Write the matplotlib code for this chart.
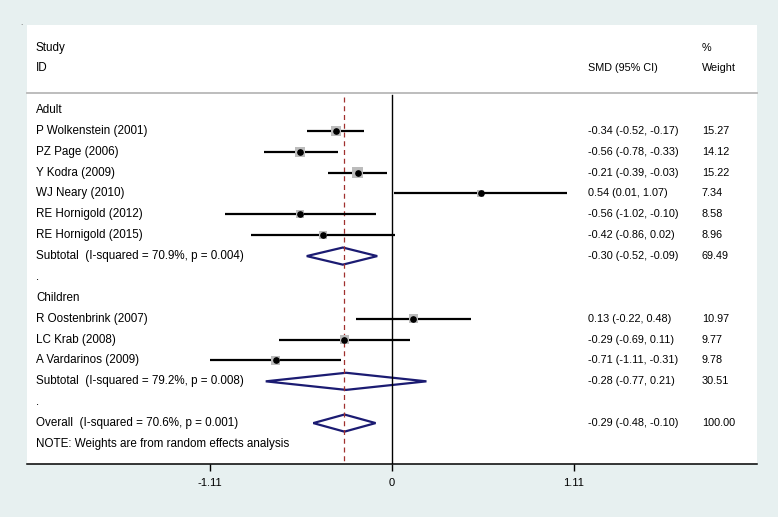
import matplotlib.pyplot as plt
from matplotlib.patches import Polygon

plt.rcParams['font.family'] = ['Liberation Sans', 'DejaVu Sans']

# 各研究資料
studies = ['P Wolkenstein (2001)', 'PZ Page (2006)', 'Y Kodra (2009)', 'WJ Neary (2010)',
           'RE Hornigold (2012)', 'RE Hornigold (2015)',
           'R Oostenbrink (2007)', 'LC Krab (2008)', 'A Vardarinos (2009)']
groups = ['Adult'] * 6 + ['Children'] * 3
smd = [-0.34, -0.56, -0.21, 0.54, -0.56, -0.42, 0.13, -0.29, -0.71]
lo = [-0.52, -0.78, -0.39, 0.01, -1.02, -0.86, -0.22, -0.69, -1.11]
hi = [-0.17, -0.33, -0.03, 1.07, -0.10, 0.02, 0.48, 0.11, -0.31]
weight = [15.27, 14.12, 15.22, 7.34, 8.58, 8.96, 10.97, 9.77, 9.78]

# 次群組合併
subgroups = ['Adult', 'Children']
sub_smd = [-0.30, -0.28]
sub_lo = [-0.52, -0.77]
sub_hi = [-0.09, 0.21]
sub_weight = [69.49, 30.51]
sub_i2 = ['70.9%', '79.2%']
sub_p = ['0.004', '0.008']

# 整體合併
overall_smd, overall_lo, overall_hi = -0.29, -0.48, -0.10
overall_weight = 100.00
overall_i2, overall_p = '70.6%', '0.001'

ticks = [-1.11, 0, 1.11]

bg = '#e7f0f0'
navy = '#1b1b72'
fig = plt.figure(figsize=(7.78, 5.17), dpi=100, facecolor=bg)
W, H = 778, 517
ax = fig.add_axes([27 / W, (H - 464) / H, 730 / W, 439 / H], facecolor='white')
ax.set_xlim(-2.226, 2.226)
ax.set_ylim(16.96, -4.07)
for s in ['top', 'left', 'right']:
    ax.spines[s].set_visible(False)
ax.spines['bottom'].set_linewidth(1.1)
ax.set_yticks([])
ax.set_xticks(ticks, [f'{t:g}' for t in ticks])
ax.tick_params(axis='x', direction='out', length=5, width=1, pad=5, labelsize=8)

# x 用軸比例、y 用資料座標
tr = ax.get_yaxis_transform()
def px(x):
    return (x - 27) / 730

fs_l, fs_r = 8.4, 7.8
col_lab, col_ci, col_w = px(36), px(588), px(702)

ax.text(col_lab, -2.97, 'Study', transform=tr, fontsize=fs_l, va='center')
ax.text(col_lab, -2.01, 'ID', transform=tr, fontsize=fs_l, va='center')
ax.text(col_ci, -2.01, 'SMD (95% CI)', transform=tr, fontsize=fs_r, va='center')
ax.text(col_w, -2.97, '%', transform=tr, fontsize=fs_r, va='center')
ax.text(col_w, -2.01, 'Weight', transform=tr, fontsize=fs_r, va='center')
ax.plot([0, 1], [-0.81, -0.81], transform=tr, color='#bdbdbd', lw=1.4, clip_on=False)
fig.text(20 / W, 1 - 25 / H, '.', fontsize=6, color='#555555')

ax.plot([0, 0], [-0.72, 16.96], color='black', lw=1.0)
ax.plot([overall_smd, overall_smd], [-0.62, 16.96], color='#a0302e', lw=0.9,
        dashes=(4, 3))

def diamond(y, c, l, h):
    ax.add_patch(Polygon([(l, y), (c, y - 0.41), (h, y), (c, y + 0.41)], closed=True,
                         fill=False, edgecolor=navy, lw=1.6, joinstyle='miter'))

row = 0
for g, gname in enumerate(subgroups):
    ax.text(col_lab, row, gname, transform=tr, fontsize=fs_l, va='center')
    row += 1
    for i in [k for k, gg in enumerate(groups) if gg == gname]:
        ax.plot([lo[i], hi[i]], [row, row], color='black', lw=1.6, solid_capstyle='butt')
        ax.scatter([smd[i]], [row], marker='s', s=3.6 * weight[i], color='#bcbcbc',
                   edgecolors='none', zorder=3)
        ax.plot([smd[i]], [row], 'o', color='black', ms=3.8, zorder=4)
        ax.text(col_lab, row, studies[i], transform=tr, fontsize=fs_l, va='center')
        ax.text(col_ci, row, f'{smd[i]:.2f} ({lo[i]:.2f}, {hi[i]:.2f})', transform=tr,
                fontsize=fs_r, va='center')
        ax.text(col_w, row, f'{weight[i]:.2f}', transform=tr, fontsize=fs_r, va='center')
        row += 1
    diamond(row, sub_smd[g], sub_lo[g], sub_hi[g])
    ax.text(col_lab, row, f'Subtotal  (I-squared = {sub_i2[g]}, p = {sub_p[g]})',
            transform=tr, fontsize=fs_l, va='center')
    ax.text(col_ci, row, f'{sub_smd[g]:.2f} ({sub_lo[g]:.2f}, {sub_hi[g]:.2f})',
            transform=tr, fontsize=fs_r, va='center')
    ax.text(col_w, row, f'{sub_weight[g]:.2f}', transform=tr, fontsize=fs_r, va='center')
    row += 1
    ax.text(col_lab, row, '.', transform=tr, fontsize=fs_l, va='center')
    row += 1

diamond(row, overall_smd, overall_lo, overall_hi)
ax.text(col_lab, row, f'Overall  (I-squared = {overall_i2}, p = {overall_p})',
        transform=tr, fontsize=fs_l, va='center')
ax.text(col_ci, row, f'{overall_smd:.2f} ({overall_lo:.2f}, {overall_hi:.2f})',
        transform=tr, fontsize=fs_r, va='center')
ax.text(col_w, row, f'{overall_weight:.2f}', transform=tr, fontsize=fs_r, va='center')
row += 1
ax.text(col_lab, row, 'NOTE: Weights are from random effects analysis', transform=tr,
        fontsize=fs_l, va='center')

fig.savefig('out.png', dpi=100, facecolor=bg)
